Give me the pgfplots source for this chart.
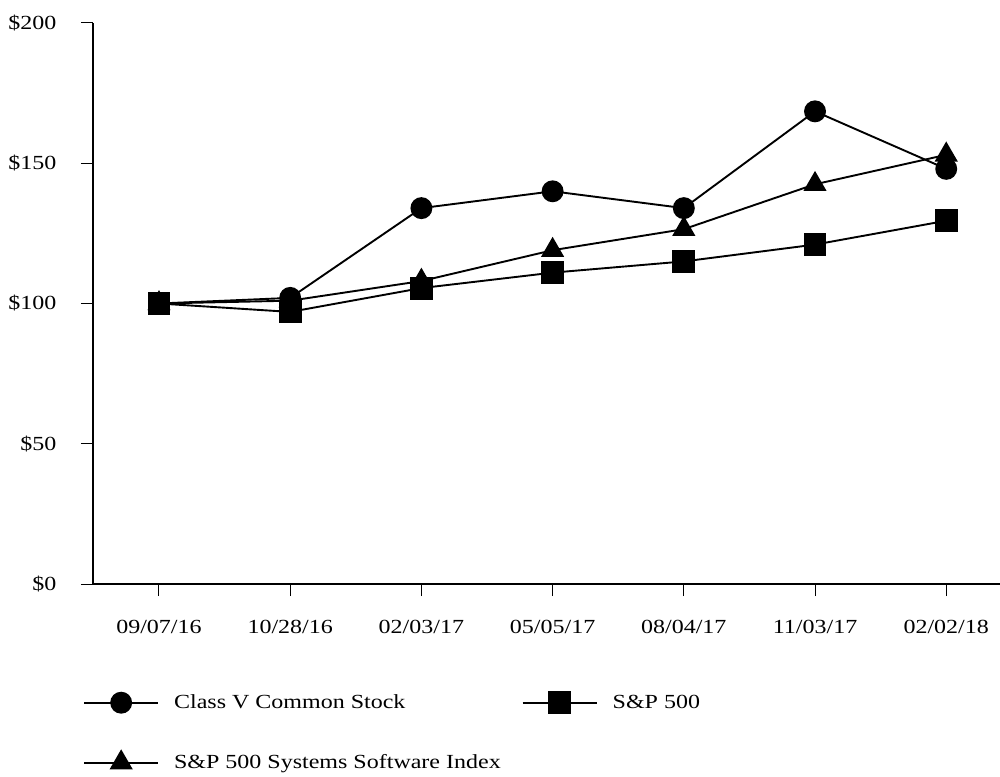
\documentclass[border=0pt]{standalone}
\usepackage{fontspec}
\setmainfont{Liberation Serif}[FakeStretch=1.2]
\usepackage{pgfplots}
\pgfplotsset{compat=1.18}
\begin{document}
\begin{tikzpicture}
\begin{axis}[
  name=main,
  scale only axis, width=907pt, height=561pt,
  xmin=-0.503, xmax=6.41, ymin=0, ymax=200,
  axis x line=bottom, axis y line=left,
  axis line style={-, line width=1.8pt, black},
  xtick={0,...,6},
  xticklabels={09/07/16,10/28/16,02/03/17,05/05/17,08/04/17,11/03/17,02/02/18},
  ytick={0,50,100,150,200},
  yticklabels={\$0,\$50,\$100,\$150,\$200},
  tick align=outside, major tick length=12pt,
  tick style={black, line width=1pt},
  tick label style={font=\fontsize{20}{24}\selectfont},
  xticklabel style={yshift=-21pt},
  yticklabel style={xshift=-21pt},
  legend columns=2,
  legend cell align=left,
  legend style={at={(-0.011,-0.1925)}, anchor=north west, draw=none, fill=none,
    font=\fontsize{20}{24}\selectfont, inner sep=0pt, row sep=38pt,
    nodes={inner sep=0pt},
    /tikz/every odd column/.append style={column sep=15pt},
    /tikz/every even column/.append style={column sep=21pt}},
  legend image code/.code={\draw[mark repeat=2, mark phase=2, #1]
    plot coordinates {(0pt,0pt) (37pt,0pt) (74pt,0pt)};},
  every axis plot/.append style={black, line width=1.9pt, mark options={solid}},
]
\addplot[mark=*, mark size=10pt] coordinates {
  (0,100) (1,102) (2,134) (3,140) (4,134) (5,168.5) (6,148)};
\addlegendentry{Class V Common Stock}
\addplot[mark=square*, mark size=10.5pt] coordinates {
  (0,100) (1,97) (2,105.5) (3,111) (4,115) (5,121) (6,129.5)};
\addlegendentry{S\&P 500}
\addplot[mark=triangle*, mark size=11.5pt] coordinates {
  (0,100) (1,101) (2,108) (3,119) (4,126.5) (5,142.5) (6,153)};
\addlegendentry{S\&P 500 Systems Software Index}
\end{axis}
\pgfresetboundingbox
\path[use as bounding box] ([shift={(-93pt,-192pt)}]main.south west)
  rectangle ([shift={(907pt,584pt)}]main.south west);
\end{tikzpicture}
\end{document}
